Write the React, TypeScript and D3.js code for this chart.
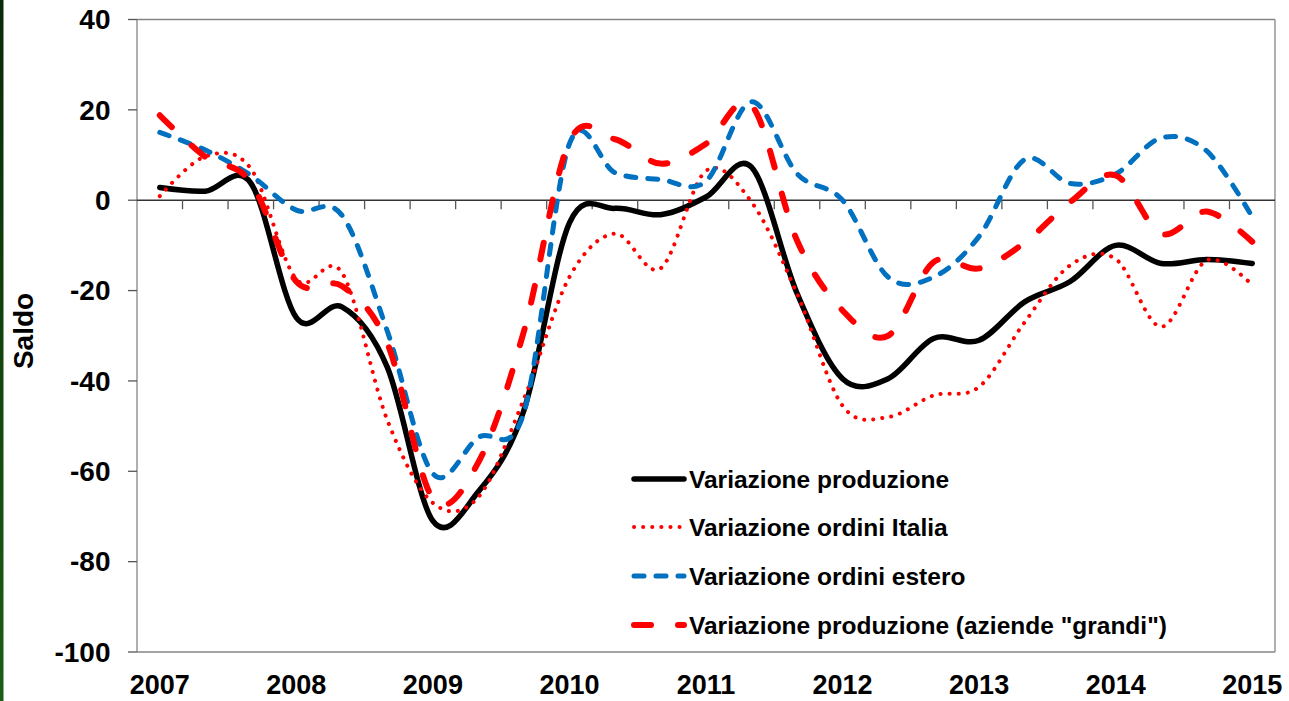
import React from "react";
import * as d3 from "d3";

const periods: string[] = [
  "2007-1", "2007-2", "2007-3",
  "2008-1", "2008-2", "2008-3",
  "2009-1", "2009-2", "2009-3",
  "2010-1", "2010-2", "2010-3",
  "2011-1", "2011-2", "2011-3",
  "2012-1", "2012-2", "2012-3",
  "2013-1", "2013-2", "2013-3",
  "2014-1", "2014-2", "2014-3",
  "2015-1",
];

const yearLabels: string[] = ["2007", "2008", "2009", "2010", "2011", "2012", "2013", "2014", "2015"];
const yearLabelPeriods: string[] = ["2007-1", "2008-1", "2009-1", "2010-1", "2011-1", "2012-1", "2013-1", "2014-1", "2015-1"];

const yTicks: number[] = [-100, -80, -60, -40, -20, 0, 20, 40];

const produzione: number[] = [
  2.8, 2.0, 3.8, -26, -23.6, -37, -71, -64.5, -46.5, -5, -1.8, -3.2, 0.7, 7.3, -20.6,
  -39.5, -39.5, -30.6, -31, -22.5, -18, -10, -14, -13.1, -14,
];
const ordiniItalia: number[] = [
  0.9, 9.7, 7, -17.5, -16, -48.7, -67, -65.7, -44, -17, -7.4, -15.1, 6.5, -0.4, -20.7,
  -45.5, -48, -43.2, -41.3, -27, -14.4, -13, -28, -13.3, -18.8,
];
const ordiniEstero: number[] = [
  15, 11.1, 5.5, -2.2, -3.3, -29, -60.5, -52.5, -47, 12.5, 6.1, 4.6, 4.2, 21.8, 5.9,
  0, -17, -17, -8, 9, 3.7, 5.8, 13.8, 10.9, -3.7,
];
const produzioneGrandi: number[] = [
  18.8, 9.6, 4, -18, -19, -31.7, -66, -58, -29, 13, 13.5, 8.1, 12.5, 21, -8.9,
  -24.4, -30, -13.7, -15.1, -9.4, -0.4, 5.5, -7.4, -2.5, -9.2,
];

const seriesNames: string[] = [
  "Variazione produzione",
  "Variazione ordini Italia",
  "Variazione ordini estero",
  "Variazione produzione (aziende \"grandi\")",
];

type Style = { color: string; width: number; dash: string | undefined };
const styles: Style[] = [
  { color: "#000000", width: 5.5, dash: undefined },
  { color: "#ff0000", width: 4, dash: "0.1 9" },
  { color: "#0070c0", width: 5, dash: "10 12" },
  { color: "#ff0000", width: 6, dash: "17 27" },
];

const FONT = "'Liberation Sans', Arial, Helvetica, sans-serif";

export default function App() {
  const W = 1289;
  const H = 701;
  const left = 137;
  const right = 1275;
  const top = 19.5;
  const bottom = 652;

  const x = d3.scaleBand<string>().domain(periods).range([left, right]).padding(0);
  const y = d3.scaleLinear().domain([-100, 40]).range([bottom, top]);
  const cx = (p: string) => (x(p) as number) + x.bandwidth() / 2;

  const allSeries = [produzione, ordiniItalia, ordiniEstero, produzioneGrandi];
  const line = d3
    .line<number>()
    .x((_, i) => cx(periods[i]))
    .y((v) => y(v))
    .curve(d3.curveCardinal.tension(0));

  const boundaries = periods.map((p) => (x(p) as number) + x.bandwidth()).slice(0, -1);

  const legendX1 = 634;
  const legendX2 = 684;
  const legendTextX = 689;
  const legendRows = [479, 527, 576, 625];

  return (
    <svg
      width={W}
      height={H}
      style={{ position: "absolute", left: 0, top: 0, display: "block" }}
      fontFamily={FONT}
    >
      <defs>
        <linearGradient id="greenStrip" x1="0" y1="0" x2="0" y2="1">
          <stop offset="0%" stopColor="#0a2a0a" />
          <stop offset="100%" stopColor="#1b5e14" />
        </linearGradient>
      </defs>
      <rect x={0} y={0} width={W} height={H} fill="#ffffff" />
      <rect x={0} y={0} width={3.5} height={H} fill="url(#greenStrip)" />

      {/* plot frame */}
      <line x1={left} x2={right} y1={top} y2={top} stroke="#858585" strokeWidth={1.3} />
      <line x1={right} x2={right} y1={top} y2={bottom} stroke="#858585" strokeWidth={1.3} />
      <line x1={left} x2={right} y1={bottom} y2={bottom} stroke="#858585" strokeWidth={1.3} />
      <line x1={left} x2={left} y1={top} y2={bottom} stroke="#858585" strokeWidth={1.3} />

      {/* y ticks */}
      {yTicks.map((t) => (
        <g key={t}>
          <line x1={left - 9} x2={left} y1={y(t)} y2={y(t)} stroke="#555" strokeWidth={1.3} />
          <text
            x={110.5}
            y={y(t)}
            dy="0.35em"
            textAnchor="end"
            fontSize={28}
            fontWeight="bold"
            fill="#000"
          >
            {t}
          </text>
        </g>
      ))}

      {/* zero line with category ticks */}
      <line x1={left} x2={right} y1={y(0)} y2={y(0)} stroke="#333" strokeWidth={1.4} />
      {boundaries.map((b, i) => (
        <line key={i} x1={b} x2={b} y1={y(0)} y2={y(0) + 9} stroke="#555" strokeWidth={1.3} />
      ))}

      {/* x labels */}
      {yearLabels.map((lab, i) => (
        <text
          key={lab}
          x={cx(yearLabelPeriods[i])}
          y={694}
          textAnchor="middle"
          fontSize={27}
          fontWeight="bold"
          fill="#000"
        >
          {lab}
        </text>
      ))}

      {/* y title */}
      <text
        transform={`translate(33,331) rotate(-90)`}
        textAnchor="middle"
        fontSize={28}
        fontWeight="bold"
        fill="#000"
      >
        Saldo
      </text>

      {/* series */}
      {allSeries.map((s, i) => (
        <path
          key={i}
          d={line(s) || ""}
          fill="none"
          stroke={styles[i].color}
          strokeWidth={styles[i].width}
          strokeDasharray={styles[i].dash}
          strokeLinecap="round"
          strokeLinejoin="round"
        />
      ))}

      {/* legend */}
      {seriesNames.map((name, i) => (
        <g key={name}>
          <line
            x1={legendX1}
            x2={legendX2}
            y1={legendRows[i]}
            y2={legendRows[i]}
            stroke={styles[i].color}
            strokeWidth={styles[i].width}
            strokeDasharray={styles[i].dash}
            strokeLinecap="round"
          />
          <text
            x={legendTextX}
            y={legendRows[i]}
            dy="0.35em"
            fontSize={24.5}
            fontWeight="bold"
            fill="#000"
          >
            {name}
          </text>
        </g>
      ))}
    </svg>
  );
}
